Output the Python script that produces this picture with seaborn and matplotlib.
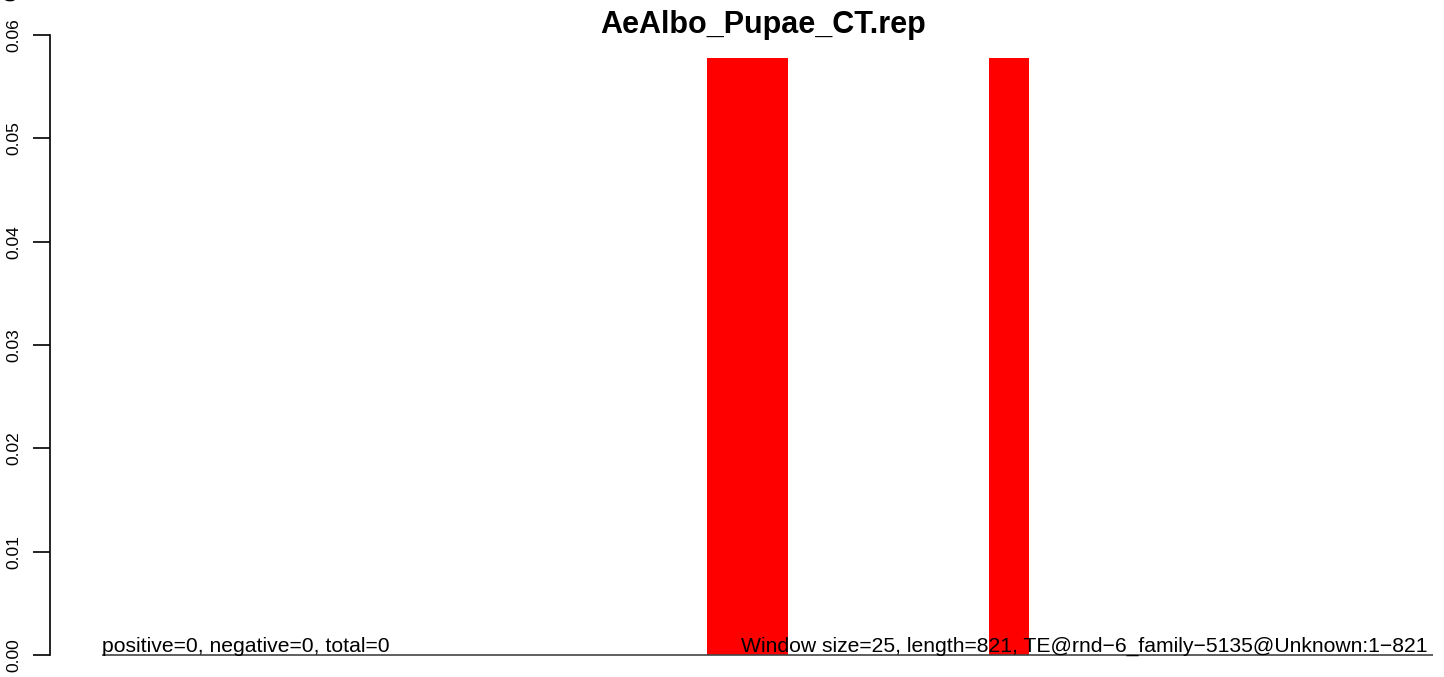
import matplotlib
matplotlib.use("Agg")
import matplotlib.pyplot as plt
import seaborn as sns
import numpy as np
import pandas as pd

# window coverage, 25 bp windows over a 821 bp TE
window_size = 25
te_length = 821
window_start = list(range(0, 825, window_size))
coverage = [0.0] * len(window_start)
coverage[15] = 0.0578
coverage[16] = 0.0578
coverage[22] = 0.0578

title = "AeAlbo_Pupae_CT.rep"
left_note = "positive=0, negative=0, total=0"
right_note = "Window size=25, length=821, TE@rnd\u22126_family\u22125135@Unknown:1\u2212821"
y_ticks = [0.00, 0.01, 0.02, 0.03, 0.04, 0.05, 0.06]

df = pd.DataFrame({"start": window_start, "cov": coverage})

sns.set_style("white")
plt.rcParams["font.family"] = ["Liberation Sans", "DejaVu Sans"]
plt.rcParams["text.color"] = "black"

W, H = 1444, 677
fig = plt.figure(figsize=(W / 100, H / 100), dpi=100)
# axes placed in pixel terms: left 50, top 35, bottom 655
ax = fig.add_axes([50 / W, (H - 655) / H, (W - 50) / W, (655 - 35) / H])

x0_px = 102
px_per_bp = 1.613
ax.set_xlim(-(x0_px - 50) / px_per_bp, (W - x0_px) / px_per_bp)
ax.set_ylim(0, 0.06)

sns.histplot(data=df, x="start", weights="cov", binwidth=window_size,
             binrange=(0, 825), color="#ff0000", alpha=1, linewidth=0,
             edgecolor="none", ax=ax)

ax.hlines(0, 0, 825, color="#444444", linewidth=1.2, clip_on=False)

ax.text(0, 0.0003, left_note, ha="left", va="baseline", fontsize=15.2, clip_on=False)
ax.text(822, 0.0003, right_note, ha="right", va="baseline", fontsize=15.2, clip_on=False)

for s in ["top", "right", "bottom"]:
    ax.spines[s].set_visible(False)
ax.spines["left"].set_bounds(0, 0.06)
ax.spines["left"].set_linewidth(1.2)
ax.spines["left"].set_color("black")
ax.set_yticks(y_ticks)
ax.set_yticklabels(["%.2f" % v for v in y_ticks], rotation=90, va="center", fontsize=12.5)
ax.tick_params(axis="y", direction="out", length=12, width=1.2, pad=8.5, left=True,
               labelcolor="black", color="black")
ax.set_xticks([])
ax.set_xlabel("")
ax.set_ylabel("")

fig.text(763 / W, 1 - 25 / H, title, ha="center", va="center", fontsize=22, fontweight="bold")
# clipped stray label at the top-left corner
fig.text(12 / W, 1 + 4 / H, "0", rotation=90, ha="center", va="center", fontsize=12.5)

fig.savefig("out.png", dpi=100)
